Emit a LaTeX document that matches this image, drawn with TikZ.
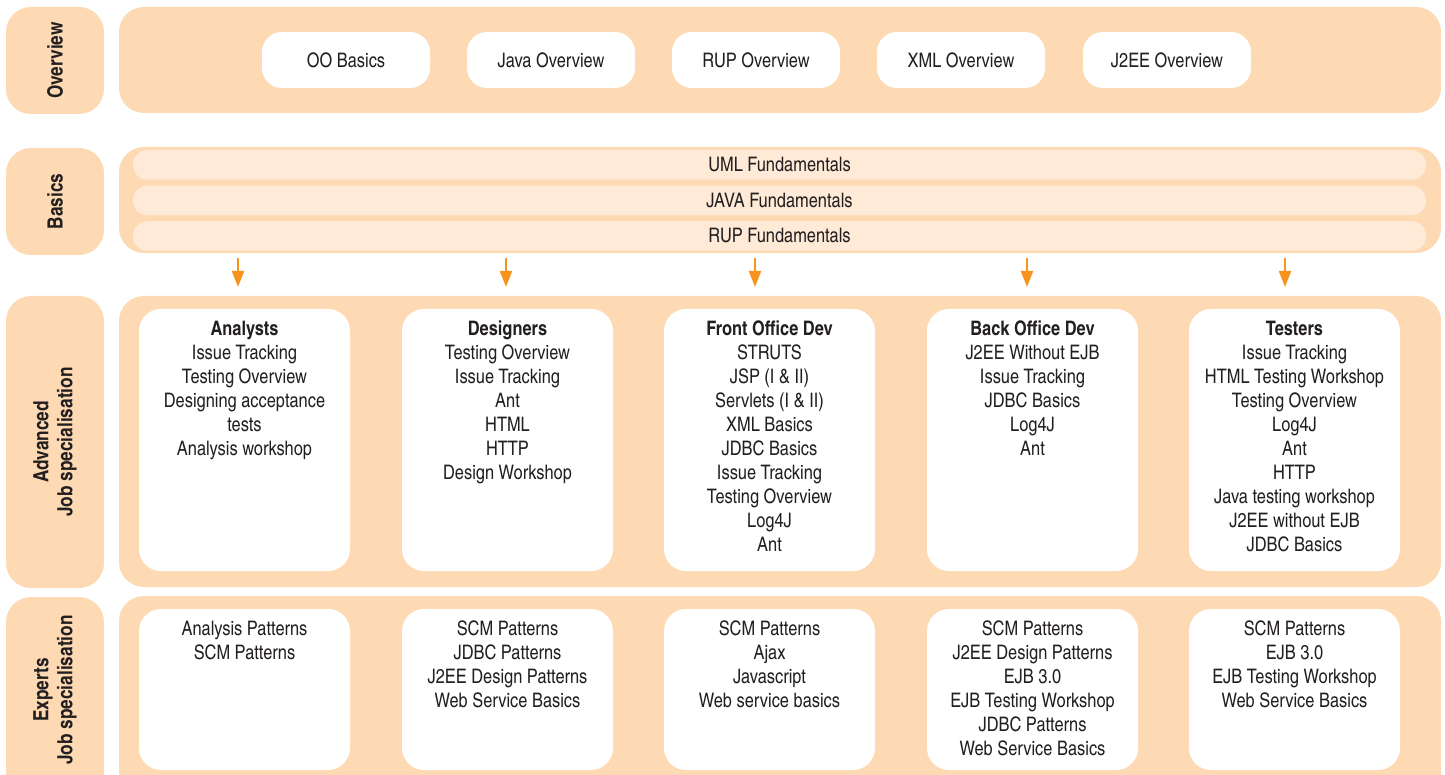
\documentclass[tikz,border=0pt]{standalone}
\usepackage{fontspec}
\setmainfont{texgyreheroscn}[Extension=.otf, UprightFont=*-regular, BoldFont=*-bold, ItalicFont=*-italic, BoldItalicFont=*-bolditalic]
\usetikzlibrary{arrows.meta}
\definecolor{panel}{HTML}{FDDAB3}
\definecolor{stripe}{HTML}{FEEAD7}
\definecolor{arrowc}{HTML}{F7941D}
\definecolor{txt}{HTML}{231F20}
\tikzset{
  panelbox/.style={fill=panel, draw=none, rounded corners=25pt},
  whitebox/.style={fill=white, draw=none, rounded corners=22pt},
  ovbox/.style={fill=white, draw=none, rounded corners=20pt, minimum width=168pt, minimum height=56pt, inner sep=0pt, font=\fontsize{20}{24}\selectfont, text=txt},
  stripebox/.style={fill=stripe, draw=none, rounded corners=14.5pt, minimum width=1293pt, minimum height=29.5pt, inner sep=0pt, font=\fontsize{20}{24}\selectfont, text=txt},
  sidelabel/.style={rotate=90, align=center, font=\bfseries\fontsize{21}{24}\selectfont, text=txt},
  boxtext/.style={anchor=north, align=center, inner sep=0pt, font=\fontsize{20}{24}\selectfont, text=txt},
  flowarrow/.style={draw=arrowc, line width=2.2pt, -{Triangle[width=12pt,length=16pt]}},
}
\begin{document}
\begin{tikzpicture}[x=1pt,y=-1pt]
\useasboundingbox (0,0) rectangle (1445,775);
% side labels
\filldraw[panelbox] (6,7) rectangle (104,114);
\node[sidelabel] (lOv) at (55,60.5) {Overview};
\filldraw[panelbox] (6,148) rectangle (104,255);
\node[sidelabel] (lBa) at (55,201.5) {Basics};
\filldraw[panelbox] (6,296) rectangle (104,588);
\node[sidelabel] (lAd) at (55,442) {Advanced\\Job specialisation};
\filldraw[panelbox] (6,597) rectangle (104,800);
\node[sidelabel] (lEx) at (55,690) {Experts\\Job specialisation};
% main panels
\node[panelbox, minimum width=1322pt, minimum height=106pt, inner sep=0pt] (pOv) at (780,60) {};
\node[panelbox, minimum width=1322pt, minimum height=106pt, inner sep=0pt] (pBa) at (780,200) {};
\node[panelbox, minimum width=1322pt, minimum height=291pt, inner sep=0pt] (pAd) at (780,441.5) {};
\filldraw[panelbox] (119,596) rectangle (1441,800);
% overview boxes
\node[ovbox] (o1) at (346,60) {OO Basics};
\node[ovbox] (o2) at (551,60) {Java Overview};
\node[ovbox] (o3) at (756,60) {RUP Overview};
\node[ovbox] (o4) at (961,60) {XML Overview};
\node[ovbox] (o5) at (1167,60) {J2EE Overview};
% basics stripes
\node[stripebox] (b1) at (779.5,165) {UML Fundamentals};
\node[stripebox] (b2) at (779.5,200.5) {JAVA Fundamentals};
\node[stripebox] (b3) at (779.5,236) {RUP Fundamentals};
% arrows
\foreach \i/\x in {1/238,2/506,3/755,4/1027,5/1285}{
  \coordinate (s\i) at (\x,258);
  \coordinate (e\i) at (\x,287);
  \draw[flowarrow] (s\i) -- (e\i);
}
% advanced and expert boxes
\foreach \i/\x in {1/139,2/402,3/664,4/927,5/1189}{
  \filldraw[whitebox] (\x,309) rectangle ++(211,262);
  \filldraw[whitebox] (\x,609) rectangle ++(211,161);
}
\node[boxtext] (a1) at (244.5,321) {\textbf{Analysts}\\Issue Tracking\\Testing Overview\\Designing acceptance\\tests\\Analysis workshop};
\node[boxtext] (a2) at (507.5,321) {\textbf{Designers}\\Testing Overview\\Issue Tracking\\Ant\\HTML\\HTTP\\Design Workshop};
\node[boxtext] (a3) at (769.5,321) {\textbf{Front Office Dev}\\STRUTS\\JSP (I \& II)\\Servlets (I \& II)\\XML Basics\\JDBC Basics\\Issue Tracking\\Testing Overview\\Log4J\\Ant};
\node[boxtext] (a4) at (1032.5,321) {\textbf{Back Office Dev}\\J2EE Without EJB\\Issue Tracking\\JDBC Basics\\Log4J\\Ant};
\node[boxtext] (a5) at (1294.5,321) {\textbf{Testers}\\Issue Tracking\\HTML Testing Workshop\\Testing Overview\\Log4J\\Ant\\HTTP\\Java testing workshop\\J2EE without EJB\\JDBC Basics};
% expert texts
\node[boxtext] (x1) at (244.5,621) {Analysis Patterns\\SCM Patterns};
\node[boxtext] (x2) at (507.5,621) {SCM Patterns\\JDBC Patterns\\J2EE Design Patterns\\Web Service Basics};
\node[boxtext] (x3) at (769.5,621) {SCM Patterns\\Ajax\\Javascript\\Web service basics};
\node[boxtext] (x4) at (1032.5,621) {SCM Patterns\\J2EE Design Patterns\\EJB 3.0\\EJB Testing Workshop\\JDBC Patterns\\Web Service Basics};
\node[boxtext] (x5) at (1294.5,621) {SCM Patterns\\EJB 3.0\\EJB Testing Workshop\\Web Service Basics};
\end{tikzpicture}
\end{document}
